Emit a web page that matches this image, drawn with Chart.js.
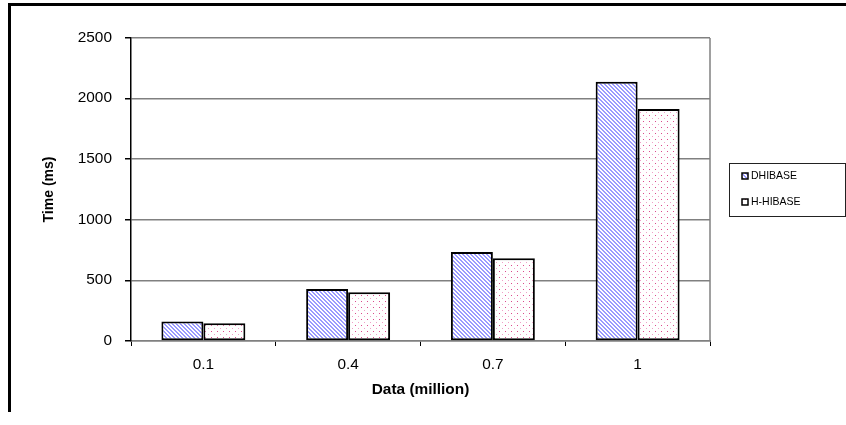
<!DOCTYPE html>
<html>
<head>
<meta charset="utf-8">
<script src="https://cdn.jsdelivr.net/npm/chart.js@4/dist/chart.umd.min.js"></script>
<style>
  html, body { margin: 0; padding: 0; background: #fff; }
  #wrap { width: 846px; height: 425px; position: relative; }
</style>
</head>
<body>
<div id="wrap"><canvas id="c" width="846" height="425"></canvas></div>
<script>
// Query time per data size
const categories = ['0.1', '0.4', '0.7', '1'];
const dhibase = [160, 430, 735, 2140];
const hhibase = [146, 403, 682, 1915];
const seriesNames = ['DHIBASE', 'H-HIBASE'];
const yTicks = [0, 500, 1000, 1500, 2000, 2500];
const xTitle = 'Data (million)';
const yTitle = 'Time (ms)';

const FONT = "'Liberation Sans', Arial, sans-serif";
const TEXT_STRETCH = 1.1;   // axis glyphs are drawn slightly wide

const canvas = document.getElementById('c');
const ctx2d = canvas.getContext('2d');

// Draw axis labels horizontally widened around their anchor point.
const baseFillText = CanvasRenderingContext2D.prototype.fillText;
ctx2d.fillText = function (text, x, y) {
  const m = this.getTransform();
  const rotated = Math.abs(m.b) > 1e-3 || Math.abs(m.c) > 1e-3;
  this.save();
  this.translate(x, y);
  if (rotated) this.scale(1, TEXT_STRETCH); else this.scale(TEXT_STRETCH, 1);
  baseFillText.call(this, text, 0, 0);
  this.restore();
};

// Fill patterns: blue downward diagonal stripes, and sparse pink dots
function stripePattern() {
  const t = document.createElement('canvas');
  t.width = 8; t.height = 8;
  const c = t.getContext('2d');
  c.fillStyle = '#fff'; c.fillRect(0, 0, 8, 8);
  c.fillStyle = '#9a9aff';
  for (let y = 0; y < 8; y++) for (let x = 0; x < 8; x++) {
    if (((x - y) % 4 + 4) % 4 < 2) c.fillRect(x, y, 1, 1);
  }
  return ctx2d.createPattern(t, 'repeat');
}
function dotPattern() {
  const t = document.createElement('canvas');
  t.width = 6; t.height = 6;
  const c = t.getContext('2d');
  c.fillStyle = '#fff'; c.fillRect(0, 0, 6, 6);
  c.fillStyle = '#dc4a8c'; c.fillRect(1, 1, 1, 1);
  c.fillStyle = '#f0a0c8'; c.fillRect(4, 4, 1, 1);
  return ctx2d.createPattern(t, 'repeat');
}
const fills = [stripePattern(), dotPattern()];

// Outer frame, plot-area right edge and the boxed legend
const decorations = {
  id: 'decorations',
  afterDraw(chart) {
    const { ctx, chartArea: a } = chart;
    ctx.save();
    // plot area right edge
    ctx.strokeStyle = '#808080';
    ctx.lineWidth = 1.5;
    ctx.beginPath();
    ctx.moveTo(a.right, a.top);
    ctx.lineTo(a.right, a.bottom);
    ctx.stroke();
    // frame (left and top)
    ctx.strokeStyle = '#000';
    ctx.lineWidth = 3;
    ctx.beginPath();
    ctx.moveTo(9.5, 412);
    ctx.lineTo(9.5, 4.5);
    ctx.lineTo(846, 4.5);
    ctx.stroke();
    // legend
    const lx = 729, ly = 163, lw = 116, lh = 53;
    ctx.lineWidth = 1;
    ctx.strokeStyle = '#222';
    ctx.strokeRect(lx + 0.5, ly + 0.5, lw, lh);
    ctx.font = '10.5px ' + FONT;
    ctx.textBaseline = 'middle';
    ctx.textAlign = 'left';
    chart.data.datasets.forEach((ds, i) => {
      const cy = ly + 13 + i * 26;
      ctx.fillStyle = ds.backgroundColor;
      ctx.fillRect(742, cy - 3, 6, 6);
      ctx.strokeStyle = '#000';
      ctx.lineWidth = 1.5;
      ctx.strokeRect(742, cy - 3, 6, 6);
      ctx.fillStyle = '#000';
      baseFillText.call(ctx, ds.label, 751, cy);
    });
    ctx.restore();
  }
};

new Chart(ctx2d, {
  type: 'bar',
  data: {
    labels: categories,
    datasets: [
      { label: seriesNames[0], data: dhibase, backgroundColor: fills[0] },
      { label: seriesNames[1], data: hhibase, backgroundColor: fills[1] }
    ]
  },
  options: {
    responsive: false,
    animation: false,
    devicePixelRatio: 1,
    events: [],
    layout: { padding: { left: 0, right: 136, top: 38, bottom: 0 } },
    datasets: {
      bar: {
        categoryPercentage: 0.58,
        barPercentage: 1,
        borderColor: '#000',
        borderWidth: 2,
        borderSkipped: false
      }
    },
    plugins: {
      legend: { display: false },
      tooltip: { enabled: false }
    },
    scales: {
      x: {
        grid: {
          offset: true,
          drawOnChartArea: false,
          drawTicks: true,
          tickLength: 5,
          color: '#000',
          lineWidth: 1
        },
        border: { color: '#808080', width: 1.5 },
        ticks: {
          color: '#000',
          padding: 11,
          maxRotation: 0,
          font: { family: FONT, size: 14 }
        },
        title: {
          display: true,
          text: xTitle,
          color: '#000',
          font: { family: FONT, size: 14, weight: 'bold' },
          padding: { top: 0, bottom: 26 }
        },
        afterFit(scale) { scale.height = 84; }
      },
      y: {
        min: 0,
        max: 2500,
        afterBuildTicks(scale) { scale.ticks = yTicks.map(v => ({ value: v })); },
        grid: {
          color: '#808080',
          tickColor: '#000',
          lineWidth: 1.5,
          tickLength: 6
        },
        border: { color: '#000', width: 1.5 },
        ticks: {
          color: '#000',
          padding: 13,
          font: { family: FONT, size: 14 },
          callback: v => String(v)
        },
        title: {
          display: true,
          text: yTitle,
          color: '#000',
          font: { family: FONT, size: 14, weight: 'bold' },
          padding: { top: 40, bottom: 0 }
        },
        afterFit(scale) { scale.width = 131; }
      }
    }
  },
  plugins: [decorations]
});
</script>
</body>
</html>
